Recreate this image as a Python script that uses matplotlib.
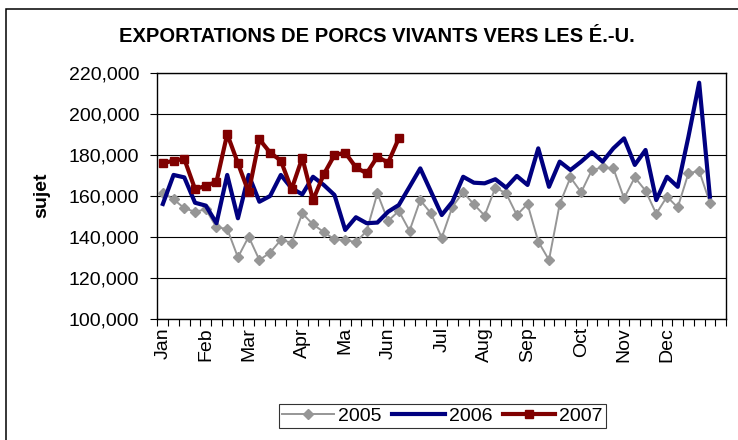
import matplotlib
matplotlib.use("Agg")
import matplotlib.pyplot as plt
from matplotlib.patches import Rectangle
from matplotlib.ticker import FuncFormatter, FixedLocator
import numpy as np

plt.rcParams['font.family'] = ['Liberation Sans', 'DejaVu Sans']

# semaines (53 catégories, la 53e vide)
n_semaines = 53
mois = ['Jan', 'Feb', 'Mar', 'Apr', 'Ma', 'Jun', 'Jul', 'Aug', 'Sep', 'Oct', 'Nov', 'Dec']
pos_mois = [0, 4, 8, 13, 17, 21, 26, 30, 34, 39, 43, 47]

porcs_2005 = [161600, 158400, 154000, 152300, 153500, 144700, 143900, 130000, 140100,
              128700, 132300, 138500, 137200, 151500, 146100, 142400, 138800, 138500,
              137400, 142900, 161300, 147800, 152700, 143000, 158000, 151500, 139600,
              154800, 161800, 155900, 150400, 164100, 161300, 150700, 156100, 137700,
              128700, 156100, 169100, 161800, 172700, 174000, 173500, 158900, 169100,
              162600, 151300, 159700, 154400, 171100, 172300, 156700]
porcs_2006 = [156100, 170300, 169100, 156700, 155300, 146700, 170300, 149100, 170300,
              157200, 160000, 170300, 163800, 160800, 169400, 165400, 160500, 143400,
              149600, 146700, 147000, 152300, 155600, 164500, 173500, 162100, 150700,
              157200, 169400, 166500, 166200, 168200, 164100, 169800, 165400, 183300,
              164500, 176800, 172700, 176800, 181400, 176800, 183300, 188200, 175200,
              182500, 158000, 169400, 164500, 189000, 215400, 159700]
porcs_2007 = [176000, 177300, 178100, 163400, 164900, 167000, 190300, 176000, 161800,
              187700, 181200, 177300, 163300, 178700, 158000, 170600, 180000, 181200,
              174000, 171100, 179200, 176300, 188200]

fig = plt.figure(figsize=(7.38, 4.4), dpi=100)
ax = fig.add_axes([0.2134, 0.2757, 0.7703, 0.5577])

ax.plot(range(len(porcs_2005)), porcs_2005, color='#969696', lw=1.4,
        marker='D', ms=5, label='2005', zorder=3)
ax.plot(range(len(porcs_2006)), porcs_2006, color='#000080', lw=3.0,
        label='2006', zorder=4)
ax.plot(range(len(porcs_2007)), porcs_2007, color='#800000', lw=3.0,
        marker='s', ms=6, label='2007', zorder=5)

ax.set_xlim(-0.5, n_semaines - 0.5)
ax.set_ylim(100000, 220000)
ax.set_yticks(np.arange(100000, 220001, 20000))
ax.yaxis.set_major_formatter(FuncFormatter(lambda v, p: f'{int(v):,}'))
ax.grid(axis='y', color='black', lw=0.8)
ax.set_axisbelow(True)

# graduations aux limites des catégories, étiquettes au centre
ax.xaxis.set_major_locator(FixedLocator(np.arange(-0.5, n_semaines, 1)))
ax.xaxis.set_major_formatter(FuncFormatter(lambda v, p: ''))
ax.xaxis.set_minor_locator(FixedLocator(pos_mois))
ax.set_xticklabels(mois, minor=True, rotation=90)
ax.tick_params(axis='x', which='major', length=5, width=0.8, color='black')
ax.tick_params(axis='x', which='minor', length=0, pad=6, labelsize=14)
ax.tick_params(axis='y', length=5, width=0.8, pad=8, labelsize=14)

for s in ax.spines.values():
    s.set_color('black')
    s.set_linewidth(1.0)

fig.text(0.511, 0.916, 'EXPORTATIONS DE PORCS VIVANTS VERS LES É.-U.',
         ha='center', va='center', fontsize=14.5, fontweight='bold')
fig.text(0.057, 0.557, 'sujet', rotation=90, ha='center', va='center',
         fontsize=14, fontweight='bold')

leg = fig.legend(loc='center', bbox_to_anchor=(0.599, 0.055), ncol=3, fontsize=14,
                 frameon=True, fancybox=False, edgecolor='black', handlelength=2.7,
                 handletextpad=0.2, columnspacing=0.55, borderpad=0.15,
                 borderaxespad=0)
leg.get_frame().set_linewidth(0.8)

# cadre extérieur
fig.add_artist(Rectangle((6 / 738, -0.1), 1.2, 1.1 - 9 / 440, fill=False,
                         edgecolor='black', lw=1.1, transform=fig.transFigure))

fig.savefig('out.png', dpi=100)
